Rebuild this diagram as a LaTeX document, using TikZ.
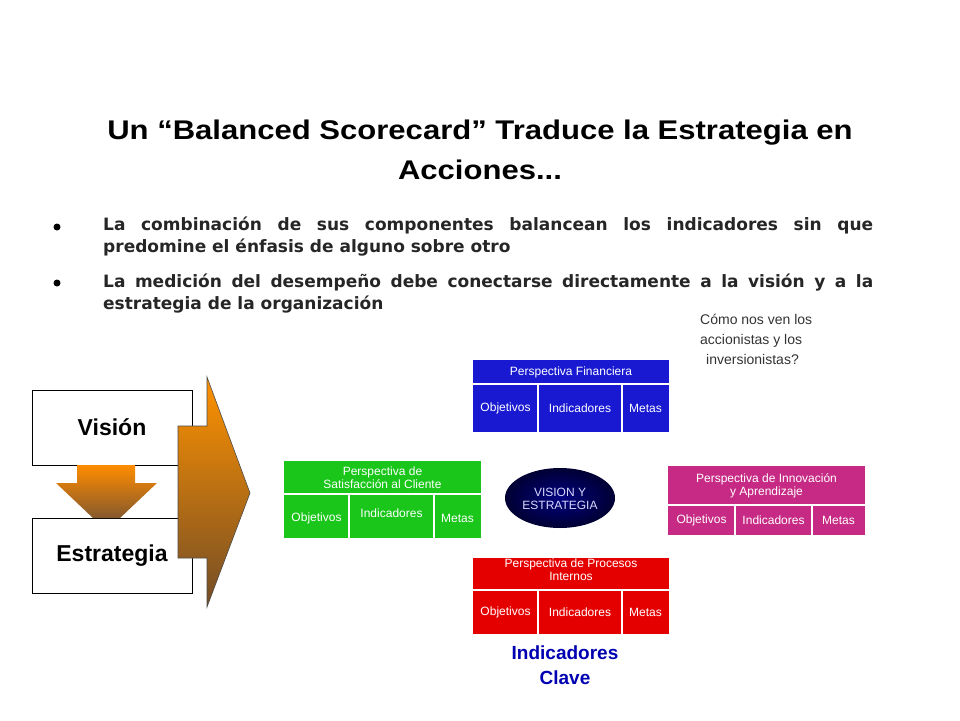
\documentclass[tikz,border=0pt]{standalone}
\usepackage{fontspec}
\setmainfont{Liberation Sans}
\newfontfamily\verd{DejaVu Sans}
\usetikzlibrary{shadings}
\begin{document}
\begin{tikzpicture}[x=1pt,y=-1pt,
  cell/.style={inner sep=0pt,text=white,font=\fontsize{12}{13}\selectfont,align=center},
  bullet/.style={anchor=north west,inner sep=0pt,align=left,font=\verd\bfseries\fontsize{17}{22}\selectfont,text=black!85},
  bigbox/.style={draw=black,line width=1pt,fill=white,inner sep=0pt,font=\bfseries\fontsize{23}{26}\selectfont}]
\useasboundingbox (0,0) rectangle (960,720);
\fill[white] (0,0) rectangle (960,720);
\node[font=\bfseries\fontsize{27}{40}\selectfont,align=center] (title) at (480,150) {\scalebox{1.15}[1]{Un “Balanced Scorecard” Traduce la Estrategia en}\\\scalebox{1.15}[1]{Acciones...}};
\fill (57,227) circle (3.5);
\fill (57,283) circle (3.5);
\node[bullet] (b1) at (103,217) {\makebox[770pt][s]{La combinación de sus componentes balancean los indicadores sin que}\\predomine el énfasis de alguno sobre otro};
\node[bullet] (b2) at (103,274) {\makebox[770pt][s]{La medición del desempeño debe conectarse directamente a la visión y a la}\\estrategia de la organización};
\node[anchor=north west,inner sep=0pt,align=left,font=\fontsize{14}{20}\selectfont,text=black!80] (q) at (700,314) {Cómo nos ven los\\accionistas y los\\\hspace*{6pt}inversionistas?};
% left boxes
\node[bigbox,minimum width=160pt,minimum height=75pt] (vis) at (112,427.5) {Visión};
\node[bigbox,minimum width=160pt,minimum height=75pt] (est) at (112,555.5) {Estrategia};
\shade[top color=orange!90!yellow,bottom color=brown!70!black] (77,465) -- (135,465) -- (135,483) -- (157,483) -- (120,518) -- (93,518) -- (56,483) -- (77,483) -- cycle;
\shade[top color=orange!85!yellow,bottom color=brown!60!black,draw=black!70,line width=0.6pt] (178,426) -- (207,426) -- (207,377) -- (250,493) -- (207,607) -- (207,558) -- (178,558) -- cycle;
% tables
\newcommand\persptab[9]{%
  \fill[#9] (#2,#3) rectangle (#4,#5);
  \draw[white,line width=1.2pt] (#2,#6) -- (#4,#6) (#7,#6) -- (#7,#5) (#8,#6) -- (#8,#5);
  \coordinate (#1h) at ({(#2+#4)/2},{(#3+#6)/2});
  \coordinate (#1a) at ({(#2+#7)/2},{(#6+#5)/2});
  \coordinate (#1b) at ({(#7+#8)/2},{(#6+#5)/2});
  \coordinate (#1c) at ({(#8+#4)/2},{(#6+#5)/2});
}
\persptab{fin}{473}{360}{669}{432}{384}{538}{622}{blue!80!black!90}
\node[cell] at (finh) {Perspectiva Financiera};
\node[cell] at (fina) {Objetivos};
\node[cell] at (finb) {Indicadores};
\node[cell] at (finc) {Metas};
\persptab{cli}{284}{461}{481}{538}{494}{349}{434}{green!75!black!90}
\node[cell] at (clih) {Perspectiva de\\Satisfacción al Cliente};
\node[cell] at ([yshift=-2]clia) {Objetivos};
\node[cell] at ([yshift=3]clib) {Indicadores};
\node[cell] at ([yshift=-2]clic) {Metas};
\persptab{inn}{668}{466}{865}{535}{505}{735}{812}{magenta!80!black}
\node[cell] at (innh) {Perspectiva de Innovación\\y Aprendizaje};
\node[cell] at (inna) {Objetivos};
\node[cell] at (innb) {Indicadores};
\node[cell] at (innc) {Metas};
\persptab{pro}{473}{558}{669}{634}{590}{538}{622}{red!90!black}
\node[cell] at ([yshift=4]proh) {Perspectiva de Procesos\\Internos};
\node[cell] at (proa) {Objetivos};
\node[cell] at (prob) {Indicadores};
\node[cell] at (proc) {Metas};
% ellipse
\shade[inner color=blue!50!black,outer color=blue!20!black] (560,498) ellipse (55 and 30);
\node[text=white!85!blue,font=\fontsize{12}{13}\selectfont,align=center] (ve) at (560,499) {VISION Y\\ESTRATEGIA};
\node[text=blue!70!black,font=\bfseries\fontsize{19}{25}\selectfont,align=center] (ic) at (565,665) {Indicadores\\Clave};
\end{tikzpicture}
\end{document}
